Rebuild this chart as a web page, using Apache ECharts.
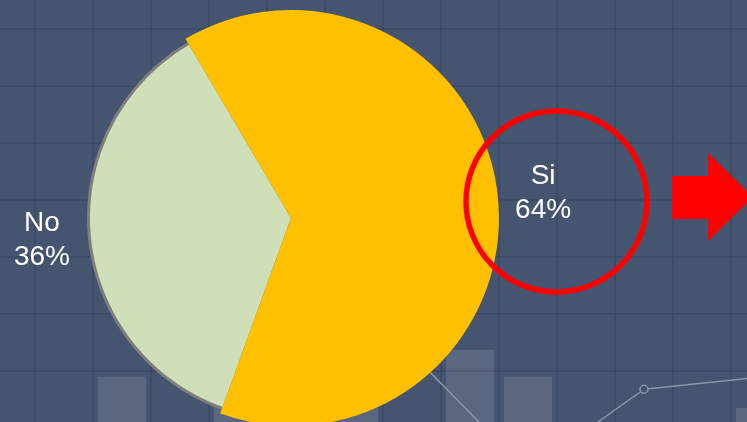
<!DOCTYPE html>
<html>
<head>
<meta charset="utf-8">
<script src="https://cdn.jsdelivr.net/npm/echarts@6/dist/echarts.min.js"></script>
<style>
  html, body { margin: 0; padding: 0; background: #46556f; }
  #chart { width: 747px; height: 422px; }
</style>
</head>
<body>
<div id="chart"></div>
<script>
// pie data
var sliceNames = ['Si', 'No'];
var sliceValues = [64, 36];

// faded chart behind the pie
var bgCategories = ['0', '1', '2', '3', '4', '5', '6', '7', '8', '9', '10', '11', '12', '13'];
var bgBars = ['-', '-', 1.9, '-', 1.37, '-', 1.35, '-', 2.37, 1.9, '-', '-', '-', 1.35];
var bgLine = ['-', '-', '-', '-', '-', '-', '-', 2.3, '-', 0.23, '-', 1.68, '-', 1.89];

var chart = echarts.init(document.getElementById('chart'));

var gridColor = '#3b4863';
var font = "'Liberation Sans', Arial, sans-serif";
var pieCenter = [291, 218];
var pieStart = 120.5;

function pieData(colors) {
  return sliceNames.map(function (n, i) {
    return { name: n, value: sliceValues[i], itemStyle: { color: colors[i] } };
  });
}

var labelData = sliceNames.map(function (n, i) {
  return {
    name: n,
    value: sliceValues[i],
    itemStyle: { color: i === 0 ? '#ffc000' : 'transparent' },
    label: { offset: i === 0 ? [0, -5] : [3, 3] }
  };
});

var option = {
  backgroundColor: '#46556f',
  animation: false,
  grid: { left: -23, top: -28, width: 812, height: 513, outerBoundsMode: 'none', containLabel: false },
  xAxis: {
    type: 'category',
    data: bgCategories,
    axisLine: { show: false },
    axisTick: { show: false },
    axisLabel: { show: false },
    splitLine: { show: true, lineStyle: { color: gridColor, width: 1.5 } }
  },
  yAxis: {
    type: 'value',
    min: 0,
    max: 9,
    interval: 1,
    axisLine: { show: false },
    axisTick: { show: false },
    axisLabel: { show: false },
    splitLine: { show: true, lineStyle: { color: gridColor, width: 1.5 } }
  },
  series: [
    {
      type: 'bar',
      data: bgBars,
      barWidth: 48,
      silent: true,
      z: 1,
      itemStyle: { color: 'rgba(255,255,255,0.11)' }
    },
    {
      type: 'line',
      data: bgLine,
      connectNulls: true,
      silent: true,
      z: 1,
      symbol: 'circle',
      symbolSize: 8,
      lineStyle: { color: '#8a94a8', width: 1.5 },
      itemStyle: { color: '#46556f', borderColor: '#8a94a8', borderWidth: 1.5 }
    },
    {
      // grey rim under the No slice
      type: 'pie',
      center: pieCenter,
      radius: [0, 204],
      startAngle: pieStart,
      silent: true,
      z: 5,
      label: { show: false },
      labelLine: { show: false },
      data: pieData(['transparent', '#7f7f7f'])
    },
    {
      type: 'pie',
      center: pieCenter,
      radius: [0, 201],
      startAngle: pieStart,
      silent: true,
      z: 5,
      label: { show: false },
      labelLine: { show: false },
      data: pieData(['transparent', '#cfe0b9'])
    },
    {
      type: 'pie',
      center: pieCenter,
      radius: [0, 208],
      startAngle: pieStart,
      silent: true,
      z: 5,
      avoidLabelOverlap: false,
      label: {
        show: true,
        position: 'outside',
        color: '#ffffff',
        formatter: '{n|{b}}\n{n|{d}%}',
        width: 60,
        rich: {
          n: { width: 60, align: 'center', fontSize: 28, lineHeight: 34, color: '#ffffff', fontFamily: font }
        }
      },
      labelLine: { show: false, length: 5, length2: 5 },
      data: labelData
    }
  ],
  graphic: [
    {
      type: 'circle',
      shape: { cx: 556.5, cy: 201.5, r: 90.5 },
      style: { fill: 'none', stroke: '#ff0000', lineWidth: 5.5 },
      z: 100
    },
    {
      type: 'polygon',
      shape: { points: [[672, 176], [708, 176], [708, 153], [753, 197], [708, 241], [708, 219], [672, 219]] },
      style: { fill: '#ff0000' },
      z: 100
    }
  ]
};

chart.setOption(option);
</script>
</body>
</html>
